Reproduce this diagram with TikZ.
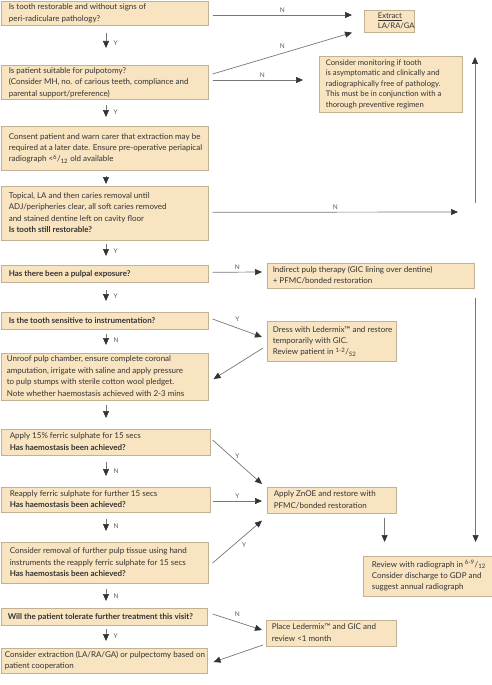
\documentclass[tikz,border=0pt]{standalone}
\usepackage{fontspec}
\setmainfont{Lato}
\usetikzlibrary{arrows.meta,calc}
\definecolor{boxfill}{HTML}{F8E4C0}
\definecolor{boxline}{HTML}{C2B193}
\definecolor{txt}{HTML}{333333}
\definecolor{lne}{HTML}{767676}
\definecolor{headc}{HTML}{333333}
\newcommand{\bx}[8][7]{%
  \pgfmathsetmacro\bxw{#4-#2}\pgfmathsetmacro\bxh{#5-#3}\pgfmathsetmacro\bxp{#4-#2-1-#1}%
  \node[box, minimum width=\bxw pt, minimum height=\bxh pt] (#6) at (#2,#3)
    {#7\hspace*{#1pt}\makebox[\bxp pt][l]{\begin{tabular}{@{}l@{}}#8\end{tabular}}};}
\newcommand{\vlink}[5]{%
  \draw[conn, shorten <=#3pt, shorten >=#4pt] (#1.south -| ax) -- (#2.north -| ax);
  \path (#2.north -| ax) ++(7,{-(#4+5)}) node[lab, anchor=west] {#5};}
\begin{document}
\begin{tikzpicture}[x=1pt,y=-1pt,
  box/.style={draw=boxline, fill=boxfill, line width=0.6pt, anchor=north west, inner ysep=0pt,
    inner xsep=0.5pt, text=txt, font={\fontsize{8}{11.4}\selectfont}},
  conn/.style={draw=lne, line width=0.7pt, -{Triangle[length=7pt,width=6pt,color=headc]}},
  lab/.style={font=\fontsize{6.5}{7}\selectfont, text=black!65, inner sep=0.5pt}]
\useasboundingbox (0,0) rectangle (492,685);
\coordinate (ax) at (106,0);
% left column
\bx{1}{1}{208}{25}{b1}{}{Is tooth restorable and without signs of\\peri-radiculare pathology?}
\bx{1}{65}{208}{97}{b2}{}{Is patient suitable for pulpotomy?\\(Consider MH, no. of carious teeth, compliance and\\parental support/preference)}
\bx{1}{126}{208}{170}{b3}{}{Consent patient and warn carer that extraction may be\\required at a later date. Ensure pre-operative periapical\\radiograph <\textsuperscript{6}/\textsubscript{12} old available}
\bx{1}{186}{208}{240}{b4}{}{Topical, LA and then caries removal until\\ADJ/peripheries clear, all soft caries removed\\and stained dentine left on cavity floor\\\textbf{Is tooth still restorable?}}
\bx{1}{265}{208}{282}{b5}{}{\textbf{Has there been a pulpal exposure?}}
\bx{1}{312}{208}{329}{b6}{}{\textbf{Is the tooth sensitive to instrumentation?}}
\bx[5]{1}{353}{208}{400}{b7}{}{Unroof pulp chamber, ensure complete coronal\\amputation, irrigate with saline and apply pressure\\to pulp stumps with sterile cotton wool pledget.\\Note whether haemostasis achieved with 2-3 mins}
\bx[8]{1}{429}{210}{455}{b8}{}{Apply 15\% ferric sulphate for 15 secs\\\textbf{Has haemostasis been achieved?}}
\bx[8]{1}{487}{210}{512}{b9}{}{Reapply ferric sulphate for further 15 secs\\\textbf{Has haemostasis been achieved?}}
\bx[8]{1}{542}{208}{583}{b10}{}{Consider removal of further pulp tissue using hand\\instruments the reapply ferric sulphate for 15 secs\\\textbf{Has haemostasis been achieved?}}
\bx[6]{1}{608}{207}{625}{b11}{}{\textbf{Will the patient tolerate further treatment this visit?}}
\bx[3]{1}{648}{207}{673}{b12}{}{Consider extraction (LA/RA/GA) or pulpectomy based on\\patient cooperation}
% right column
\bx[13]{364}{10}{414}{32}{ext}{\fontsize{7.7}{10.2}\selectfont}{\underline{Extract}\\LA/RA/GA}
\bx[6]{319}{56}{462}{112}{mon}{\fontsize{7.7}{10.4}\selectfont}{Consider monitoring if tooth\\is asymptomatic and clinically and\\radiographically free of pathology.\\This must be in conjunction with a\\thorough preventive regimen}
\bx[5]{267}{263}{474}{288}{ind}{}{Indirect pulp therapy (GIC lining over dentine)\\+ PFMC/bonded restoration}
\bx[5]{267}{321}{396}{361}{dre}{}{Dress with Ledermix™ and restore\\temporarily with GIC.\\Review patient in \textsuperscript{1-2}/\textsubscript{52}}
\bx[6]{267}{487}{396}{513}{zno}{}{Apply ZnOE and restore with\\PFMC/bonded restoration}
\bx[8]{363}{556}{492}{596}{rev}{}{Review with radiograph in \textsuperscript{6-9}/\textsubscript{12}\\Consider discharge to GDP and\\suggest annual radiograph}
\bx[5]{266}{620}{396}{646}{pla}{}{Place Ledermix™ and GIC and\\review <1 month}
% vertical links
\vlink{b1}{b2}{7}{17}{Y}
\vlink{b2}{b3}{5}{9}{Y}
\vlink{b3}{b4}{5}{2}{}
\vlink{b4}{b5}{3}{9}{Y}
\vlink{b5}{b6}{7}{11}{Y}
\vlink{b6}{b7}{4}{8}{N}
\vlink{b7}{b8}{4}{11}{}
\vlink{b8}{b9}{6}{11}{N}
\vlink{b9}{b10}{6}{11}{N}
\vlink{b10}{b11}{5}{7}{N}
\vlink{b11}{b12}{3}{7}{Y}
% right connectors
\draw[conn] ($(b1.north east)+(4,14)$) -- ($(ext.north west)+(-12,5)$) node[lab, midway, above=1.5pt] {N};
\draw[conn] ($(b2.north east)+(4,9)$) -- ($(ext.south west)+(-12,0)$) node[lab, midway, above=4pt] {N};
\draw[conn] ($(b2.north east)+(4,15)$) -- ($(mon.north west)+(-16,24)$) node[lab, pos=0.55, above=1.5pt] {N};
\coordinate (e4) at (458,212);
\draw[conn] ($(b4.east)+(4,-1)$) -- (e4) node[lab, midway, above=1.5pt] {N};
\coordinate (u1) at (475,203);
\coordinate (u2) at (475,57);
\draw[conn] (u1) -- (u2);
\draw[conn] ($(b5.east)+(4,-1.5)$) -- ($(ind.north west)+(-5,9)$) node[lab, midway, above=1.5pt] {N};
\coordinate (r1) at ($(ind.south east)+(1,9)$);
\draw[conn, shorten >=14pt] (r1) -- (r1 |- rev.north);
\draw[conn] ($(b6.north east)+(4,7)$) -- ($(dre.north west)+(-5,16)$) node[lab, midway, above=6pt] {Y};
\draw[conn] ($(dre.north west)+(-4,27)$) -- ($(b7.north east)+(5,26)$);
\draw[conn] ($(b8.north east)+(2,11)$) -- ($(zno.north west)+(-5,-3)$) node[lab, midway, above=3pt] {Y};
\draw[conn] ($(b9.north east)+(2,14)$) -- ($(zno.north west)+(-5,14)$) node[lab, midway, above=1.5pt] {Y};
\draw[conn] ($(b10.north east)+(4,21)$) -- ($(zno.south west)+(-5,7)$) node[lab, midway, right=4pt, yshift=-3pt] {Y};
\coordinate (r2) at ($(zno.south east)+(-12,4)$);
\draw[conn, shorten >=14pt] (r2) -- (r2 |- rev.north);
\draw[conn] ($(b11.north east)+(5,6)$) -- ($(pla.north west)+(-4,10)$) node[lab, midway, above=5pt] {N};
\draw[conn] ($(pla.north west)+(-3,25)$) -- ($(b12.north east)+(6,14)$);
\end{tikzpicture}
\end{document}
